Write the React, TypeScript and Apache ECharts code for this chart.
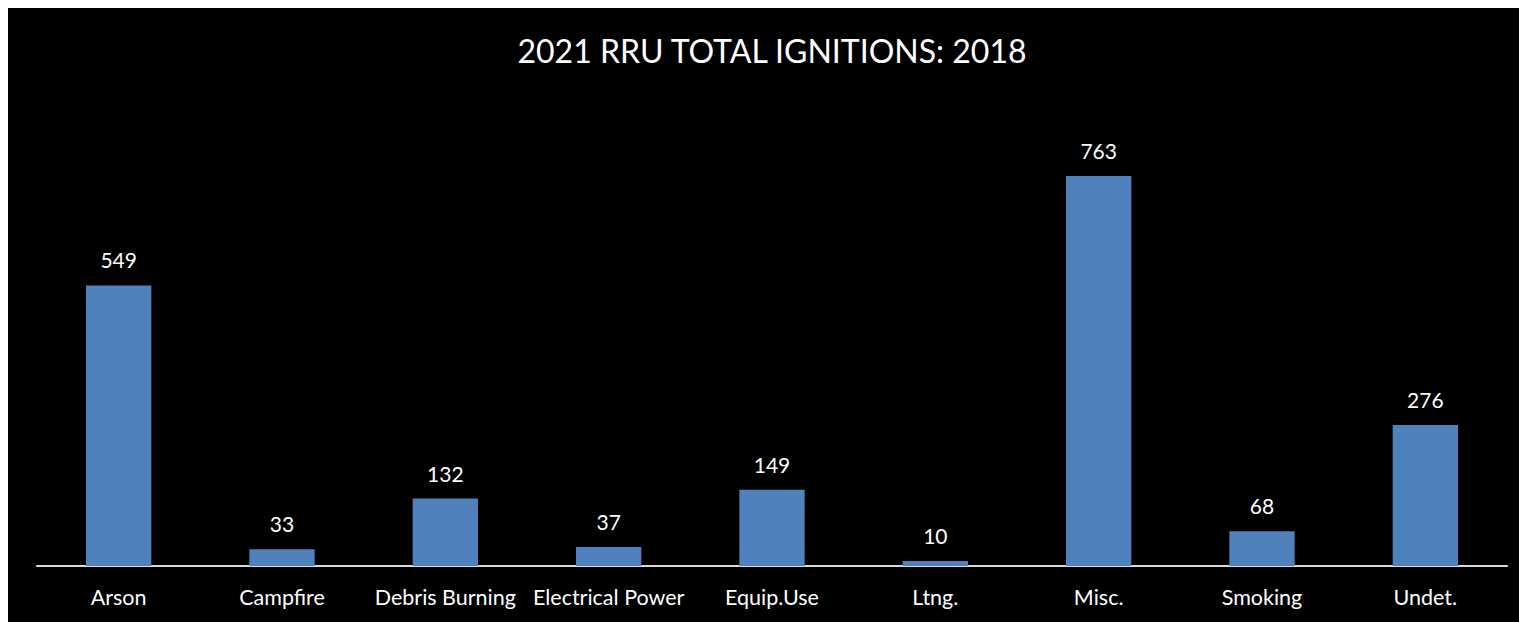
import React, { useEffect, useRef } from "react";
import * as echarts from "echarts";

const titleText = "2021 RRU TOTAL IGNITIONS: 2018";
const categories = ["Arson", "Campfire", "Debris Burning", "Electrical Power", "Equip.Use", "Ltng.", "Misc.", "Smoking", "Undet."];
const ignitions = [549, 33, 132, 37, 149, 10, 763, 68, 276];

const FONT = "Lato, 'Open Sans', sans-serif";

export default function App() {
  const ref = useRef<HTMLDivElement>(null);
  useEffect(() => {
    if (!ref.current) return;
    const chart = echarts.init(ref.current, undefined, { renderer: "svg" });
    chart.setOption({
      animation: false,
      backgroundColor: "#000000",
      title: {
        text: titleText,
        left: 759,
        top: 21,
        textAlign: "center",
        textStyle: { color: "#ffffff", fontFamily: FONT, fontSize: 32, fontWeight: "normal" },
      },
      grid: { left: 29, right: 20, top: 98, bottom: 56, containLabel: false },
      xAxis: {
        type: "category",
        data: categories,
        axisLine: { show: true, lineStyle: { color: "#d9d9d9", width: 2 } },
        axisTick: { show: false },
        axisLabel: { color: "#ffffff", fontFamily: FONT, fontSize: 21.5, margin: 20, interval: 0 },
      },
      yAxis: {
        type: "value",
        min: 0,
        max: 900,
        show: false,
        splitLine: { show: false },
      },
      series: [
        {
          type: "bar",
          data: ignitions,
          barWidth: "40%",
          itemStyle: { color: "#4F81BD" },
          label: {
            show: true,
            position: "top",
            distance: 15,
            color: "#ffffff",
            fontFamily: FONT,
            fontSize: 21,
          },
        },
      ],
    });
    return () => chart.dispose();
  }, []);
  return (
    <div
      ref={ref}
      style={{ width: 1519, height: 614, outline: "2px solid #d4d4d4" }}
    />
  );
}
